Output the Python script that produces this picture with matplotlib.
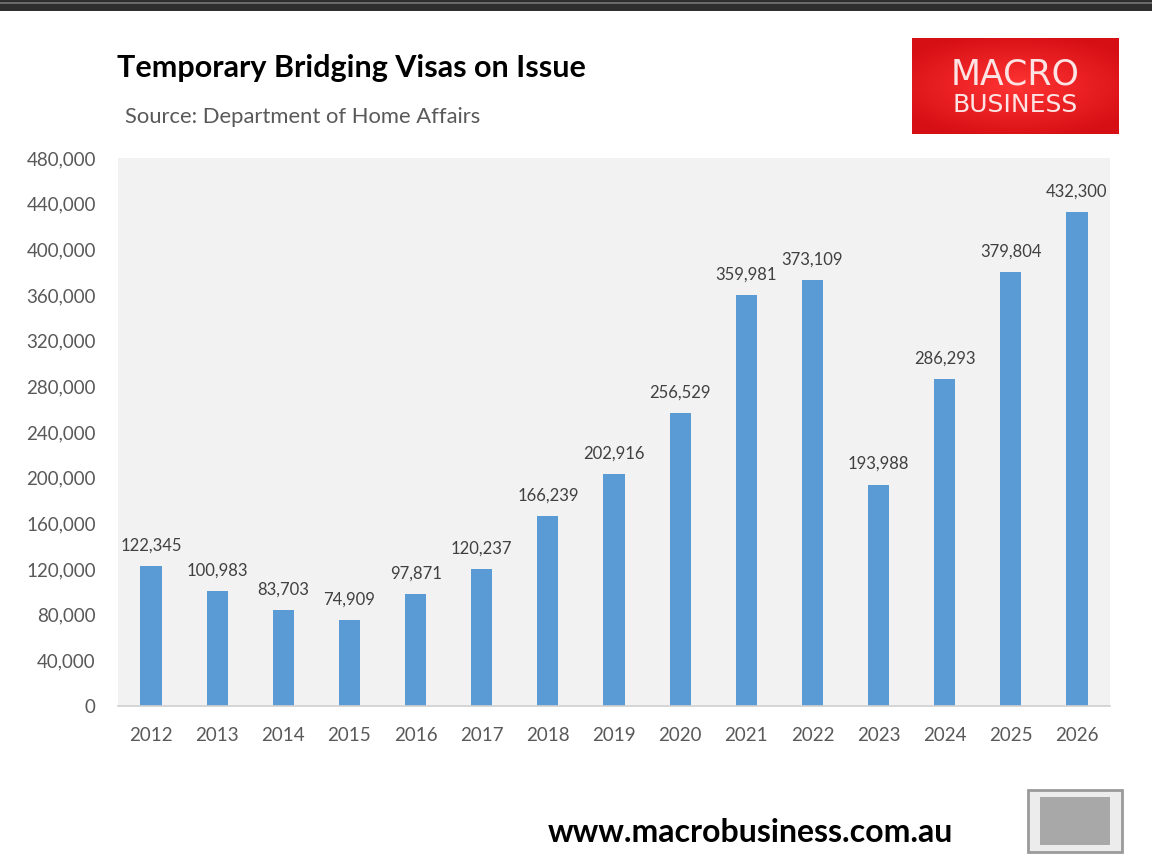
import matplotlib
matplotlib.use("Agg")
import matplotlib.pyplot as plt
import numpy as np
from matplotlib.patches import Rectangle

years = ["2012", "2013", "2014", "2015", "2016", "2017", "2018", "2019",
         "2020", "2021", "2022", "2023", "2024", "2025", "2026"]
visas = [122345, 100983, 83703, 74909, 97871, 120237, 166239, 202916,
         256529, 359981, 373109, 193988, 286293, 379804, 432300]
y_ticks = [0, 40000, 80000, 120000, 160000, 200000, 240000, 280000,
           320000, 360000, 400000, 440000, 480000]

plt.rcParams['font.family'] = ['Lato', 'DejaVu Sans']

fig = plt.figure(figsize=(11.52, 8.58), dpi=100)
fig.patch.set_facecolor('white')

# dark strip at the very top of the screenshot
fig.patches.append(Rectangle((0, 1 - 11 / 858), 1, 11 / 858, transform=fig.transFigure,
                             facecolor='#2e2e2e', edgecolor='none'))
fig.patches.append(Rectangle((0, 1 - 4 / 858), 1, 1.5 / 858, transform=fig.transFigure,
                             facecolor='#6a6a6a', edgecolor='none'))

ax = fig.add_axes([118 / 1152, 1 - 706 / 858, (1110 - 118) / 1152, (706 - 158) / 858])
ax.set_facecolor('#f2f2f2')

x = range(len(years))
bars = ax.bar(x, visas, width=0.32, color='#5b9bd5', zorder=2)
ax.set_xlim(-0.5, len(years) - 0.5)
ax.set_ylim(0, 480000)
ax.set_yticks(y_ticks)
ax.set_yticklabels([f"{v:,}" for v in y_ticks])
ax.set_xticks(list(x))
ax.set_xticklabels(years)

for s in ['top', 'right', 'left']:
    ax.spines[s].set_visible(False)
ax.spines['bottom'].set_color('#d0d0d0')
ax.spines['bottom'].set_linewidth(1.2)
ax.tick_params(axis='both', length=0, colors='#595959', labelsize=13.5)
ax.tick_params(axis='x', pad=15)
ax.tick_params(axis='y', pad=16)

# value labels above each bar
for rect, val in zip(bars, visas):
    ax.annotate(f"{val:,}", (rect.get_x() + rect.get_width() / 2, val),
                xytext=(0, 9), textcoords='offset points',
                ha='center', va='bottom', fontsize=12, color='#404040')

fig.text(117 / 1152, 1 - 68 / 858, "Temporary Bridging Visas on Issue",
         fontsize=22, fontweight='bold', color='black', va='center', ha='left')
fig.text(125 / 1152, 1 - 117 / 858, "Source: Department of Home Affairs",
         fontsize=15.8, color='#595959', va='center', ha='left')

# MacroBusiness logo box with a soft radial glow
logo_ax = fig.add_axes([912 / 1152, 1 - 134 / 858, 207 / 1152, 96 / 858])
gx, gy = np.meshgrid(np.linspace(-1, 1, 200), np.linspace(-1, 1, 100))
glow = np.clip(1 - np.sqrt(gx ** 2 * 0.6 + gy ** 2 * 0.8), 0, 1)
red_lo = np.array([0.84, 0.06, 0.08])
red_hi = np.array([1.00, 0.20, 0.20])
img = red_lo + (red_hi - red_lo) * glow[..., None]
logo_ax.imshow(img, aspect='auto', extent=(0, 1, 0, 1))
logo_ax.set_axis_off()
logo_ax.text(0.5, 0.62, "MACRO", fontsize=25, color='#fde3e3',
             family='DejaVu Sans', ha='center', va='center')
logo_ax.text(0.5, 0.30, "BUSINESS", fontsize=18, color='#fde3e3',
             family='DejaVu Sans', ha='center', va='center')

fig.text(750 / 1152, 1 - 833 / 858, "www.macrobusiness.com.au",
         fontsize=23, fontweight='bold', color='black', ha='center', va='center')

# small framed picture in the corner
fig.patches.append(Rectangle((1028 / 1152, 1 - 852 / 858), 94 / 1152, 62 / 858,
                             transform=fig.transFigure, facecolor='#ececec',
                             edgecolor='#9a9a9a', linewidth=2))
fig.patches.append(Rectangle((1040 / 1152, 1 - 845 / 858), 70 / 1152, 48 / 858,
                             transform=fig.transFigure, facecolor='#a8a8a8',
                             edgecolor='none'))

fig.savefig("out.png", dpi=100, facecolor='white')
